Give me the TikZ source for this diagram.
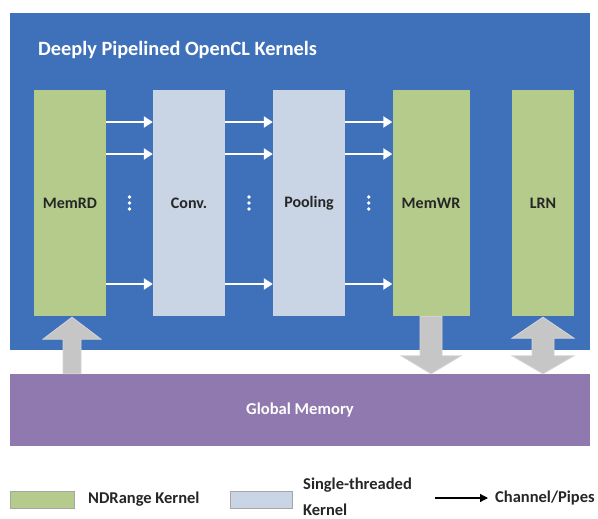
\documentclass[tikz,border=0pt]{standalone}
\usepackage{fontspec}
\setmainfont{Carlito}
\usetikzlibrary{arrows.meta,calc}
\definecolor{bgblue}{HTML}{3F71BA}
\definecolor{kgreen}{HTML}{B4CB8B}
\definecolor{kgray}{HTML}{C9D5E5}
\definecolor{gmem}{HTML}{8F79AE}
\definecolor{arrgray}{HTML}{C6C6C6}
\definecolor{arredge}{HTML}{D6D6D6}
\definecolor{txt}{HTML}{262626}
\tikzset{
  kbox/.style={minimum height=226pt, inner sep=0pt, font=\bfseries\fontsize{16}{18}\selectfont, text=txt},
  ndr/.style={kbox, fill=kgreen},
  st/.style={kbox, fill=kgray},
  chan/.style={draw=white, line width=2.4pt, -{Triangle[length=9pt,width=11pt]}},
  vdots/.style={fill=white, circle, inner sep=1.3pt},
  bigarrow/.style={fill=arrgray, draw=arredge, line width=0.8pt},
  legtxt/.style={font=\bfseries\fontsize{16.5}{18}\selectfont, text=txt, anchor=west, inner sep=0pt}
}
\begin{document}
\begin{tikzpicture}[x=1pt,y=-1pt]
\useasboundingbox (0,0) rectangle (598,519);
\fill[white] (0,0) rectangle (598,519);
% panel
\node[fill=bgblue, minimum width=580pt, minimum height=337pt, inner sep=0pt] (panel) at (300,181.5) {};
\node[anchor=west, text=white, font=\bfseries\fontsize{20.3}{22}\selectfont, inner sep=0pt] (title) at (38,50) {Deeply Pipelined OpenCL Kernels};
% memory
\node[fill=gmem, minimum width=580pt, minimum height=72pt, inner sep=0pt, text=white, font=\bfseries\fontsize{16.6}{18}\selectfont] (memory) at (300,410) {Global Memory};
% kernels
\node[ndr, minimum width=72pt] (memrd) at (70,203) {MemRD};
\node[st, minimum width=72pt] (conv) at (189,203) {Conv.};
\node[st, minimum width=72pt] (pool) at (309,203) {Pooling};
\node[ndr, minimum width=77pt] (memwr) at (431,203) {MemWR};
\node[ndr, minimum width=62pt] (lrn) at (543,203) {LRN};
% channels
\foreach \a/\b in {memrd/conv, conv/pool, pool/memwr}{
  \foreach \yy in {122,154,284}{
    \draw[chan] (\a.east |- 0,\yy) -- (\b.west |- 0,\yy);
  }
  \path (\a.east) -- (\b.west) coordinate[pos=0.5] (mid-\a);
  \foreach \dy in {-6,0,6}{
    \node[vdots] at ($(mid-\a)+(0,\dy)$) {};
  }
}
% big arrows
% MemRD up arrow
\coordinate (t1) at ($(memrd.south)+(2,1)$);
\coordinate (b1) at (t1 |- memory.north);
\path[bigarrow] (t1) -- ($(t1)+(29,22)$) -- ($(t1)+(9,22)$) -- ($(b1)+(9,0)$) -- ($(b1)+(-9,0)$)
  -- ($(t1)+(-9,22)$) -- ($(t1)+(-29,22)$) -- cycle;
% MemWR down arrow
\coordinate (t2) at (memwr.south |- memory.north);
\coordinate (b2) at (memwr.south);
\path[bigarrow] (t2) -- ($(t2)+(30,-18)$) -- ($(t2)+(11,-18)$) -- ($(b2)+(11,0)$) -- ($(b2)+(-11,0)$)
  -- ($(t2)+(-11,-18)$) -- ($(t2)+(-30,-18)$) -- cycle;
% LRN double arrow
\coordinate (t3) at ($(lrn.south)+(0,1)$);
\coordinate (b3) at (lrn.south |- memory.north);
\path[bigarrow] (t3) -- ($(t3)+(31,21)$) -- ($(t3)+(11,21)$) -- ($(b3)+(11,-18)$) -- ($(b3)+(31,-18)$)
  -- (b3) -- ($(b3)+(-31,-18)$) -- ($(b3)+(-11,-18)$) -- ($(t3)+(-11,21)$) -- ($(t3)+(-31,21)$) -- cycle;
% legend
\node[fill=kgreen, draw=gray!70, line width=1pt, minimum width=64pt, minimum height=17pt, inner sep=0pt] (leg1) at (42,500) {};
\node[legtxt] (leg1t) at (88,499) {NDRange Kernel};
\node[fill=kgray, draw=gray!70, line width=1pt, minimum width=62pt, minimum height=17pt, inner sep=0pt] (leg2) at (261,500) {};
\node[legtxt] (leg2t) at (303,485) {Single-threaded};
\node[legtxt] (leg2u) at (303,510) {Kernel};
\coordinate (la) at (435,498);
\node[legtxt] (leg3t) at (495,498) {Channel/Pipes};
\draw[line width=1.2pt, -{Triangle[length=8pt,width=8pt]}] (la) -- ($(leg3t.west)+(-7,0)$);
\end{tikzpicture}
\end{document}
